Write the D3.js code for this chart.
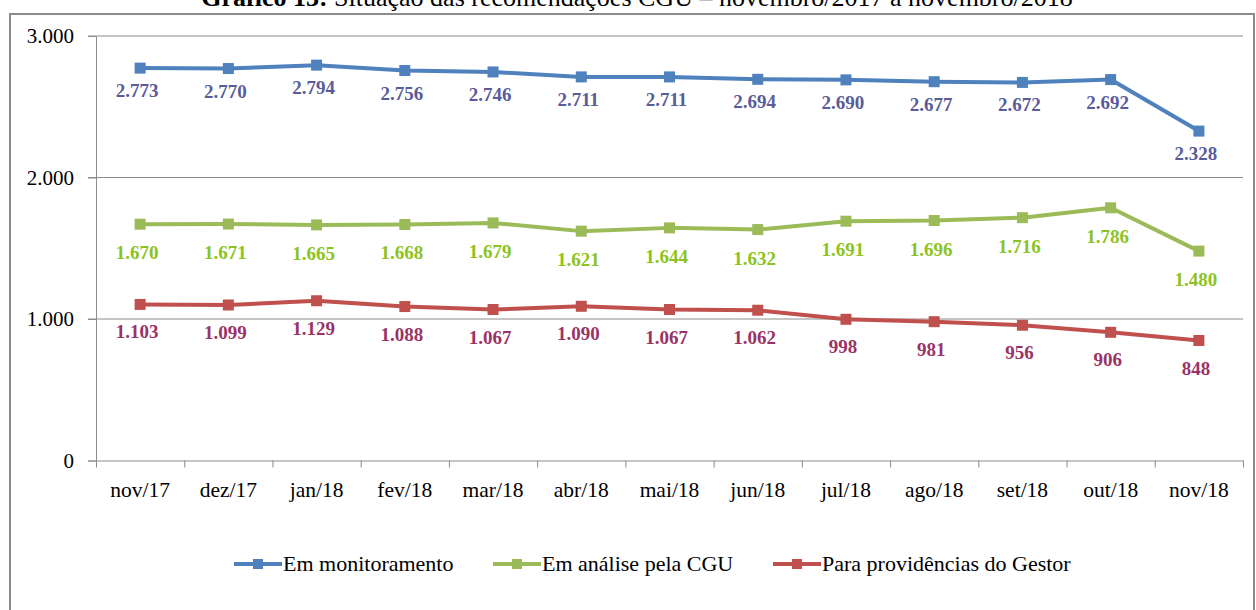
<!DOCTYPE html>
<html>
<head>
<meta charset="utf-8">
<script src="https://cdn.jsdelivr.net/npm/d3@7"></script>
<style>
  body { margin: 0; background: #fff; }
  svg { display: block; font-family: "Liberation Serif", "Times New Roman", serif; }
</style>
</head>
<body>
<svg id="chart"></svg>
<script>
// categories and series values
const months = ["nov/17", "dez/17", "jan/18", "fev/18", "mar/18", "abr/18", "mai/18",
    "jun/18", "jul/18", "ago/18", "set/18", "out/18", "nov/18"];
const emMonitoramento = [2773, 2770, 2794, 2756, 2746, 2711, 2711, 2694, 2690, 2677, 2672, 2692, 2328];
const emAnalise = [1670, 1671, 1665, 1668, 1679, 1621, 1644, 1632, 1691, 1696, 1716, 1786, 1480];
const paraGestor = [1103, 1099, 1129, 1088, 1067, 1090, 1067, 1062, 998, 981, 956, 906, 848];
const yTicks = [0, 1000, 2000, 3000];
const seriesNames = ["Em monitoramento", "Em análise pela CGU", "Para providências do Gestor"];

const W = 1256, H = 610;
const plot = { left: 96, right: 1243, top: 36, bottom: 460.5 };
const serif = "'Liberation Serif', 'Times New Roman', serif";

const svg = d3.select("#chart").attr("width", W).attr("height", H);

const ptBR = d3.formatLocale({ decimal: ",", thousands: ".", grouping: [3], currency: ["R$", ""] });
const fmt = ptBR.format(",d");

// Title (mostly cropped at the top, as in the source)
const title = svg.append("text")
    .attr("x", 637).attr("y", 6)
    .attr("text-anchor", "middle")
    .style("font-family", serif)
    .style("font-size", "26px");
title.append("tspan").style("font-weight", "bold").text("Gráfico 13:");
title.append("tspan").text(" Situação das recomendações CGU – novembro/2017 a novembro/2018");

// outer frame
svg.append("rect")
    .attr("x", 10).attr("y", 14)
    .attr("width", 1244).attr("height", 620)
    .attr("fill", "none")
    .attr("stroke", "#8c8c8c")
    .attr("stroke-width", 2);

const x = d3.scaleBand().domain(months).range([plot.left, plot.right]).padding(0);
const xEdges = d3.scaleLinear().domain([0, months.length]).range([plot.left, plot.right]);
const y = d3.scaleLinear().domain([0, 3000]).range([plot.bottom, plot.top]);
const cx = d => x(d) + x.bandwidth() / 2;

// gridlines
svg.append("g")
    .selectAll("line")
    .data(yTicks.filter(t => t > 0))
    .join("line")
    .attr("x1", plot.left - 8).attr("x2", plot.right)
    .attr("y1", d => y(d)).attr("y2", d => y(d))
    .attr("stroke", "#8c8c8c").attr("stroke-width", 1);

// y axis
const yAxis = svg.append("g")
    .attr("transform", `translate(${plot.left},0)`)
    .call(d3.axisLeft(y).tickValues(yTicks).tickFormat(fmt).tickSize(8).tickPadding(14));
yAxis.select(".domain").attr("stroke", "#8c8c8c");
yAxis.selectAll(".tick line").attr("stroke", "#8c8c8c");
yAxis.selectAll(".tick text")
    .attr("fill", "#000")
    .style("font-size", "21px")
    .style("font-family", serif);

// x axis: ticks at category edges, labels at centres
const xAxisTicks = svg.append("g")
    .attr("transform", `translate(0,${plot.bottom})`)
    .call(d3.axisBottom(xEdges).tickValues(d3.range(months.length + 1)).tickFormat("").tickSize(7).tickSizeOuter(0));
xAxisTicks.select(".domain").attr("stroke", "#8c8c8c");
xAxisTicks.selectAll(".tick line").attr("stroke", "#8c8c8c");

const xAxisLabels = svg.append("g")
    .attr("transform", `translate(0,${plot.bottom})`)
    .call(d3.axisBottom(x).tickSize(0).tickPadding(21));
xAxisLabels.select(".domain").remove();
xAxisLabels.selectAll(".tick text")
    .attr("fill", "#000")
    .style("font-size", "21.5px")
    .style("font-family", serif);

// series
const series = [
    { name: seriesNames[0], values: emMonitoramento, color: "#4F81BD", labelColor: "#5A5C9A", dy: 29 },
    { name: seriesNames[1], values: emAnalise, color: "#9BBB59", labelColor: "#8CC320", dy: 35 },
    { name: seriesNames[2], values: paraGestor, color: "#C0504D", labelColor: "#993366", dy: 34 }
];

const line = d3.line().x((d, i) => cx(months[i])).y(d => y(d));
const msize = 11;

series.forEach(s => {
    const g = svg.append("g");
    g.append("path")
        .datum(s.values)
        .attr("d", line)
        .attr("fill", "none")
        .attr("stroke", s.color)
        .attr("stroke-width", 4)
        .attr("stroke-linejoin", "round");

    g.selectAll("rect")
        .data(s.values)
        .join("rect")
        .attr("x", (d, i) => cx(months[i]) - msize / 2)
        .attr("y", d => y(d) - msize / 2)
        .attr("width", msize).attr("height", msize)
        .attr("fill", s.color);

    g.selectAll("text")
        .data(s.values)
        .join("text")
        .attr("x", (d, i) => cx(months[i]) - 3)
        .attr("y", d => y(d) + s.dy)
        .attr("text-anchor", "middle")
        .attr("fill", s.labelColor)
        .style("font-family", serif)
        .style("font-size", "19px")
        .style("font-weight", "bold")
        .text(d => fmt(d));
});

// legend
const legendX = [234, 493, 773];
const legend = svg.append("g").attr("transform", "translate(0,564)");
series.forEach((s, i) => {
    const lg = legend.append("g").attr("transform", `translate(${legendX[i]},0)`);
    lg.append("line")
        .attr("x1", 0).attr("x2", 48)
        .attr("stroke", s.color).attr("stroke-width", 4);
    lg.append("rect")
        .attr("x", 24 - 5).attr("y", -5)
        .attr("width", 10).attr("height", 10)
        .attr("fill", s.color);
    lg.append("text")
        .attr("x", 49).attr("y", 7)
        .style("font-family", serif)
        .style("font-size", "22px")
        .text(s.name);
});
</script>
</body>
</html>
